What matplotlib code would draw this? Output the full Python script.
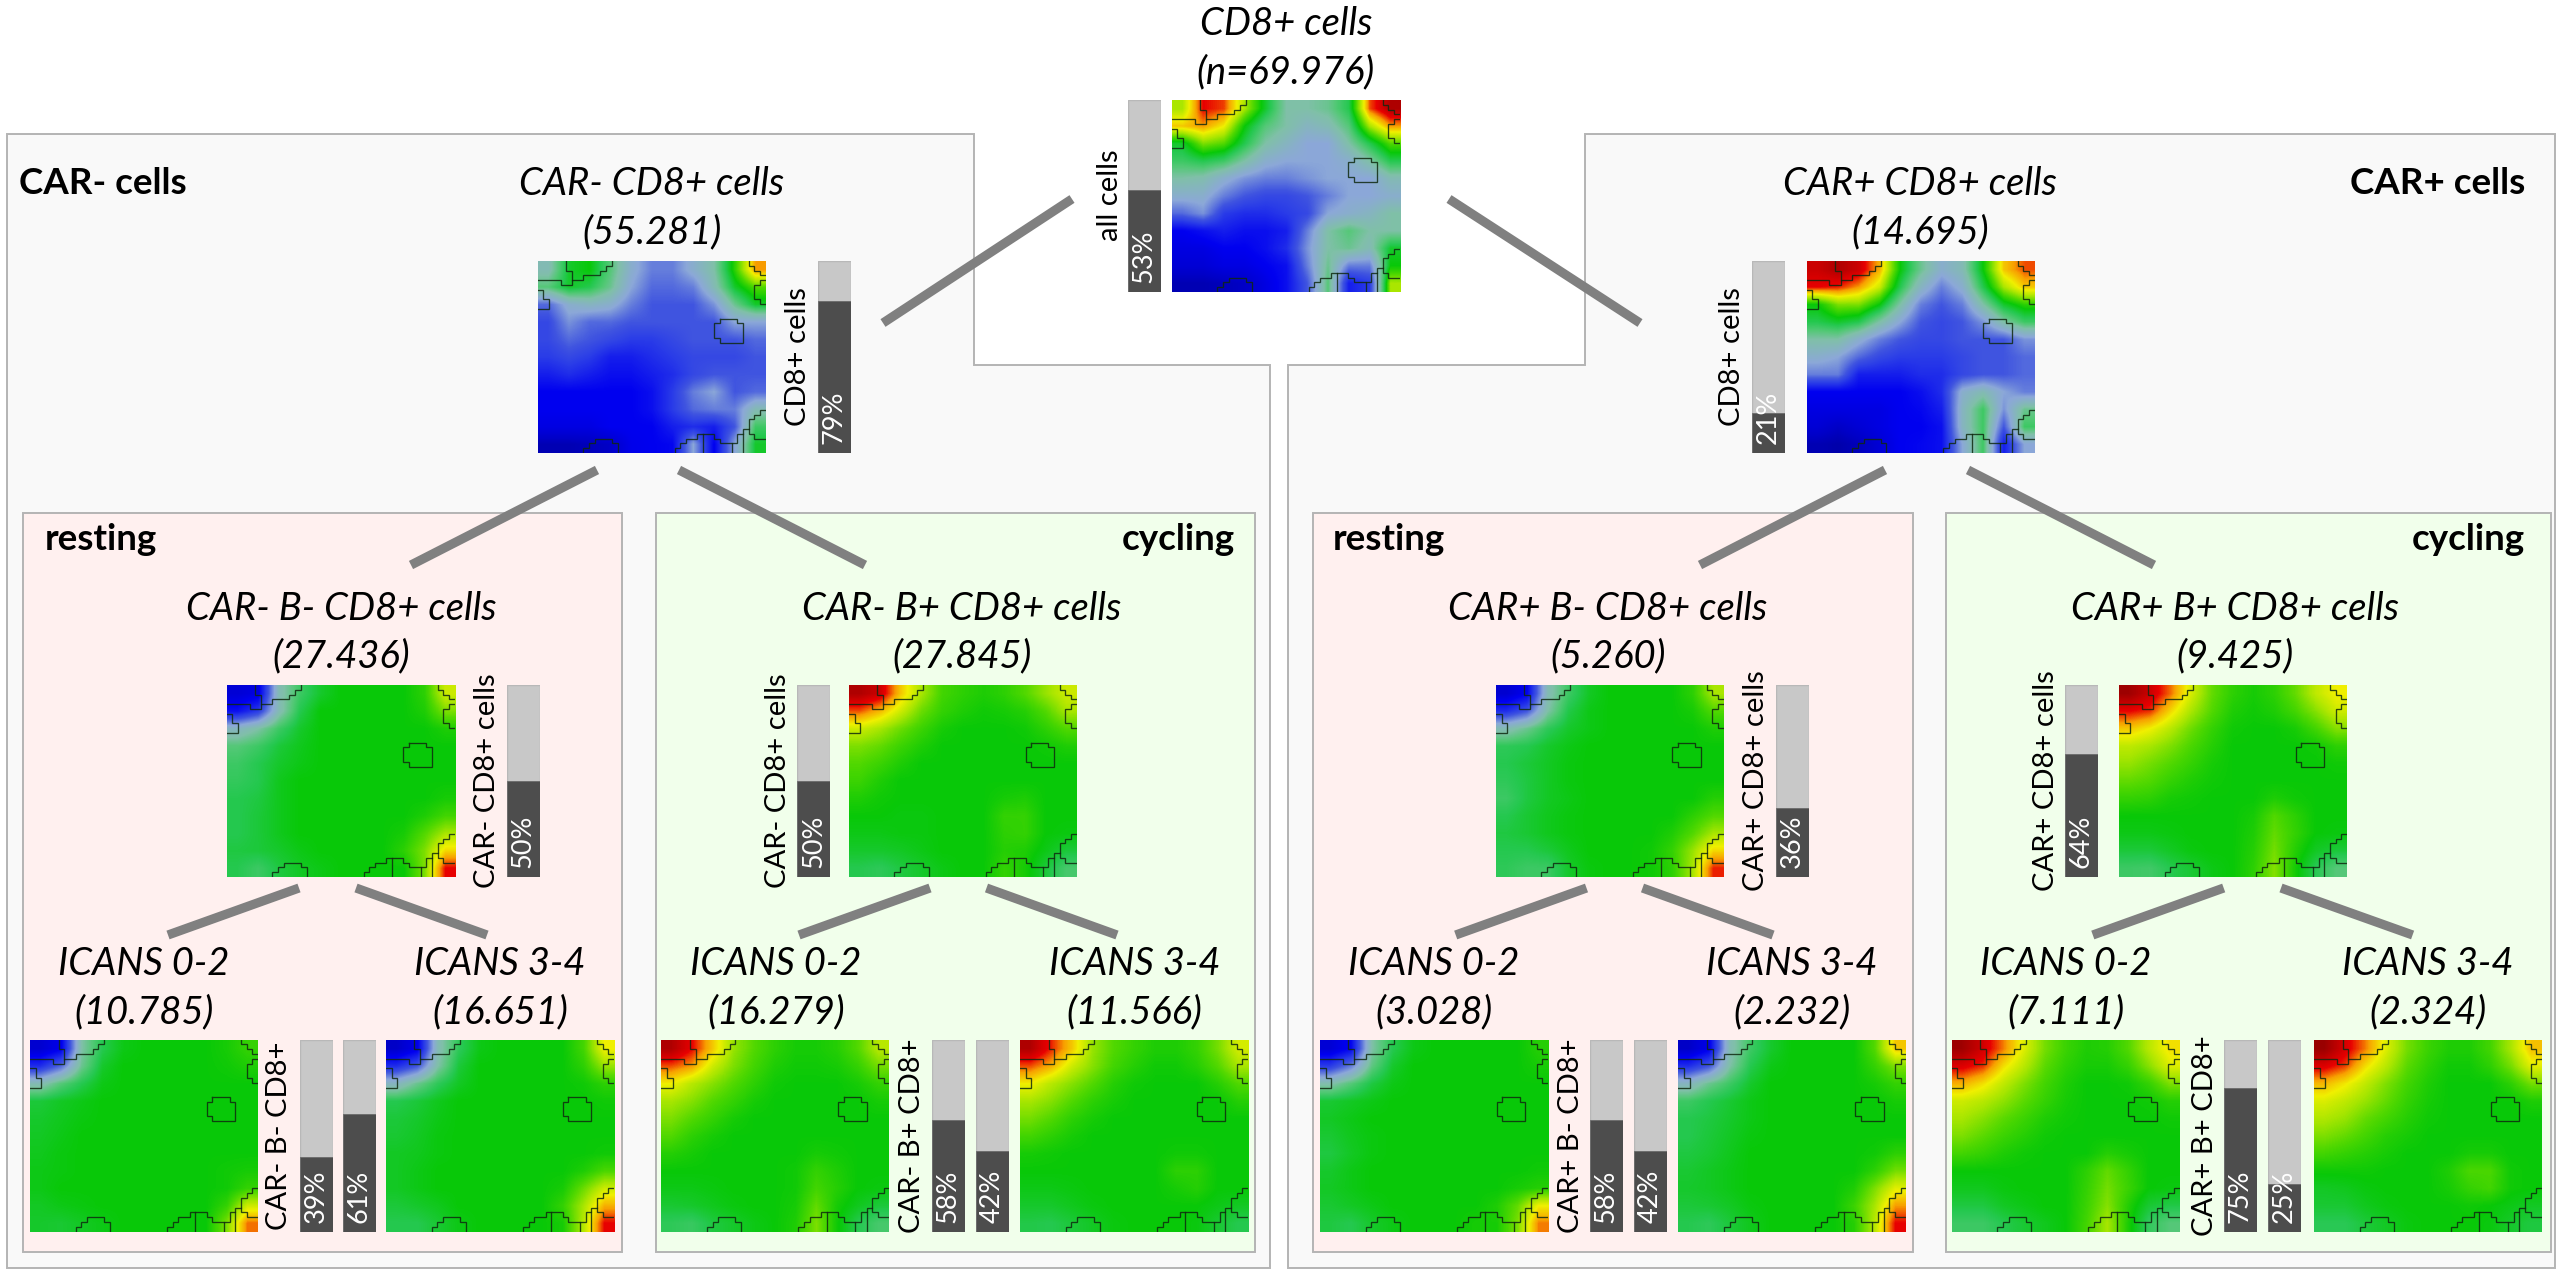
import matplotlib
matplotlib.use("Agg")
import matplotlib.pyplot as plt
import numpy as np
from matplotlib.colors import LinearSegmentedColormap
from matplotlib.patches import Polygon, Rectangle

W, H = 2559, 1276
plt.rcParams['font.family'] = ['Lato', 'DejaVu Sans']

# ---------- data: mean marker intensity on the map, read at 11x11 control points ----------
ALL = [
 [15,18,17.6,15,12.5,10,10,10.5,12,17.5,19],
 [16.5,17,16,13,11,10,9,9.5,11,15,17],
 [12.5,14.5,14,12,10,9,8,8,10,12,14],
 [11.5,12,11.5,10,8.5,8,8,8,8.5,10,12],
 [10,9.7,8.5,7.5,7,7,7.5,8,8,8,9.5],
 [8.5,8.5,7,6,5.5,5.5,6,7,8,8,8.5],
 [6.5,7.5,5,4.5,4.5,5,5.5,8,8.5,9,10],
 [3,3.5,4,3.5,3.5,4,7,10,11,10,10],
 [2.5,2.5,3,3,3.5,4.5,7.5,10,10.5,9.5,12.5],
 [2,2,2.5,2.5,3,3.5,7,10.5,7,7,13],
 [1,1,1.2,1.5,2.5,3.5,6,11,4,5,15]]
NEG = [
 [9.5,12.5,13,11,8.5,7,7,8.5,10,13.5,17],
 [11,12.5,12,10.5,8,6.5,6.5,7,9.5,12.5,14],
 [6.5,8.5,9,8.5,7,6,6,6,7.5,10.5,12.5],
 [5.5,7.5,6.5,6.5,6,6,6,6,6,8,8],
 [5.5,6.5,6,5.5,5,5,5.5,6,6,6,6.5],
 [5,5.5,5,4,4,4.5,5,5.5,5.5,5.5,6],
 [4,4.5,4,3.5,3.5,4,4.5,5.5,6,6,6],
 [3,3,3,3,3,3.5,5,7,8,6,6.5],
 [3,3,3,3,3,3.5,5,6.5,7,7,9.5],
 [2.5,2.5,2.5,3,3,3,4,4.5,4,6,11.5],
 [1,1,1.2,1.5,2.8,3,3.2,8,3,8,12.5]]
POS = [
 [18.5,19,18.5,16.8,13,10.5,8.5,9.5,13,16.5,17.5],
 [18,17.8,17,15.5,12,9,7,8.5,12,15,16.5],
 [13,14.5,14.5,13,10,7,6,7,10,12.5,13.5],
 [12,12.5,12,10,8,6,5.5,6,7.5,10,11.5],
 [10,10,8.5,7,6,5.5,5.5,6,6,6,7.5],
 [8.5,8,6.5,5.5,5,5,5,5.5,6,6,6.5],
 [7,7,4,4,4,4.5,4.5,5.5,6,6,6.5],
 [3,3,3,3,3,3.5,4.5,8.5,9.5,8,7],
 [2.5,2.5,2.5,2.5,3,3.2,4,9,11.5,7.5,10.5],
 [2,1.5,2,2.5,3,3,3.5,9,11.5,6,11.5],
 [1,0.8,1.2,2,3,3.2,3.5,8,11.5,4,8]]
NEG_BN = [
 [2,2.5,9.5,11.5,12.5,13,13,13,13,13.5,15.5],
 [3.5,5,9.5,12,13,13,13,13,13,13.3,14.5],
 [9,10,11.5,12.5,13,13,13,13,13,13,13.3],
 [11,11.5,12.3,12.7,13,13,13,13,13,13,13],
 [11.5,12,12.5,12.8,13,13,13,13,13,13,13],
 [11.7,12,12.7,13,13,13,13,13,13,13,13],
 [12,12.2,12.7,13,13,13,13,13,13,13,13.2],
 [12,12.3,12.7,13,13,13,13,13,13,13.3,13.8],
 [12,12.3,12.7,13,13,13,13,13,13.2,14,15],
 [12.2,12.3,12.5,12.8,13,13,13,13,13.5,14.5,16.3],
 [12,11.5,12.2,12.6,12.8,13,13,13,13,14.5,18]]
NEG_BP = [
 [19,18.5,16.5,15,13.8,13.5,13.3,13.5,14,14.8,15.5],
 [17.5,16.7,15.5,14.3,13.6,13.3,13.1,13.2,13.4,14,15],
 [15.5,15,14.3,13.7,13.2,13,13,13,13.1,13.5,14],
 [14.5,14.2,13.7,13.3,13,13,13,13,13,13.1,13.3],
 [14,13.7,13.3,13,13,13,13,13,13,13,13],
 [13.7,13.3,13,13,13,13,13,13,13,13,13],
 [13.3,13.1,13,13,13,13,13,13.2,13.3,13,13],
 [13,13,12.9,12.9,13,13,13,13.6,13.6,13,13],
 [12.8,12.8,12.9,12.9,13,13,13,13.5,13.6,13,12.9],
 [12.5,12.5,12.6,12.8,13,13,13,13.4,13.3,12.8,12.3],
 [12,11.8,12.2,12.5,12.8,13,13,13.6,13.2,12.3,11.3]]
POS_BN = [
 [1.8,3,9.5,11.5,12.6,13,13,13,13,13.5,15],
 [4.5,6,10,12.1,12.8,13,13,13,13,13.2,14],
 [9.5,10.5,11.8,12.5,12.8,13,13,13,13,13,13.3],
 [11.8,12,12.5,12.8,13,13,13,13,13,13,13],
 [12,12.3,12.6,12.9,13,13,13,13,13,13,13],
 [11.8,12.2,12.6,12.9,13,13,13,13,13,13,13],
 [11.5,12.2,12.6,12.8,13,13,13,13,13,13,13.4],
 [12,12.4,12.7,12.9,13,13,13,13,13,13.5,14],
 [12.2,12.4,12.7,12.9,13,13,13,13,13.3,14,15],
 [12,12,12.3,12.7,13,13,13,13.1,13.6,14.8,16.3],
 [11.8,11.5,11.5,12.5,12.9,13,13,13.1,13.5,15,17.8]]
POS_BP = [
 [19.3,18.5,17.3,15.6,14.2,13.5,13.2,13.5,14.2,15.3,16],
 [18,17.7,16.3,15,14,13.3,13.1,13.3,13.8,14.6,15.5],
 [16.5,16,15.2,14.3,13.6,13.1,13,13,13.2,13.8,14.6],
 [15.3,15,14.5,13.9,13.4,13,13,13,13,13.1,13.5],
 [14.8,14.4,14,13.6,13.2,13,13,13,13,13,13.1],
 [14.2,14,13.6,13.3,13.1,13,13,13,13,13,13],
 [13.6,13.5,13.2,13.1,13,13,13,13.3,13.1,13,13],
 [13,13,13,13,13,13,13.2,14,13.5,13,13],
 [12.8,12.8,12.9,13,13,13,13.3,14.2,13.6,13,12.9],
 [12.3,12.3,12.6,12.9,13,13,13.4,14.4,13.4,12.6,12.3],
 [11.5,11.4,12,12.4,12.8,13,13.5,14.6,13.2,11.9,11]]
NEG_BN_LOW = [
 [1.8,2.8,10,12,12.8,13,13,13,13,13.2,13.6],
 [4.5,6.5,10.5,12.5,13,13,13,13,13,13.1,13.3],
 [9.5,11,12,12.8,13,13,13,13,13,13,13],
 [12.3,12.6,12.8,13,13,13,13,13,13,13,13],
 [12.5,12.7,12.9,13,13,13,13,13,13,13,13],
 [12.6,12.8,13,13,13,13,13,13,13,13,13],
 [12.7,12.9,13,13,13,13,13,13,13,13,13],
 [12.8,12.9,13,13,13,13,13,13,13,13.1,13.2],
 [12.8,13,13,13,13,13,13,13,13,13.1,13.6],
 [12.6,12.8,12.9,13,13,13,13,13,13,13.6,15.5],
 [12.5,12.4,12.6,12.8,13,13,13,13,13,14.5,17.3]]
NEG_BN_HIGH = [
 [1.5,2.7,9.5,11.8,12.8,13,13,13,13,13.8,16],
 [4.5,6,10,12.3,13,13,13,13,13,13.5,14.8],
 [9,10.5,11.8,12.6,13,13,13,13,13,13.1,13.5],
 [12,12.3,12.7,13,13,13,13,13,13,13,13.1],
 [12.3,12.5,12.8,13,13,13,13,13,13,13,13],
 [12.4,12.6,12.9,13,13,13,13,13,13,13,13],
 [12.6,12.7,12.9,13,13,13,13,13,13,13,13.1],
 [12.6,12.8,13,13,13,13,13,13,13,13.3,13.9],
 [12.6,12.8,13,13,13,13,13,13,13.2,14.3,15.5],
 [12.3,12.5,12.7,13,13,13,13,13,13.6,15,16.8],
 [12,12,12.4,12.8,13,13,13,13,13.2,15.2,18]]
NEG_BP_LOW = [
 [19,18,16.5,14.8,14,13.5,13.2,13.2,13.4,14,15.2],
 [17.5,17,15.5,14.5,13.8,13.3,13.1,13.1,13.2,13.6,14.4],
 [16,15.2,14.6,14,13.5,13.1,13,13,13,13.2,13.6],
 [15,14.6,14,13.6,13.2,13,13,13,13,13,13.2],
 [14.5,14,13.6,13.2,13,13,13,13,13,13,13],
 [14,13.5,13.2,13,13,13,13,13,13,13,13],
 [13.4,13.2,13,13,13,13,13,13.2,13.1,13,13],
 [13,13,13,13,13,13,13.1,13.6,13.3,13,13],
 [12.8,12.8,12.9,13,13,13,13.1,13.8,13.4,13,12.9],
 [12.4,12.5,12.7,12.9,13,13,13.2,14.2,13.2,12.7,12.3],
 [11.8,11.6,12.2,12.5,12.8,13,13.3,14.5,13.1,12,11.3]]
NEG_BP_HIGH = [
 [19,17.8,16.5,14.8,14,13.6,13.3,13.3,13.6,14.4,15.6],
 [17.5,16.8,15.5,14.6,13.8,13.4,13.1,13.1,13.4,14,15],
 [16,15.2,14.6,14,13.4,13.1,13,13,13,13.4,14],
 [15,14.6,14,13.5,13.2,13,13,13,13,13,13.4],
 [14.4,14,13.5,13.2,13,13,13,13,13,13,13],
 [13.8,13.5,13.2,13,13,13,13,13,13,13,13],
 [13.2,13.1,13,13,13,13,13,13.1,13.1,13,13],
 [13,13,13,13,13,13,13,13.5,13.5,13,13],
 [12.8,12.8,12.9,13,13,13,13,13.2,13.4,13,13],
 [12.5,12.5,12.7,12.9,13,13,13,13,13,12.8,12.6],
 [12.1,12,12.3,12.6,12.9,13,13,13,12.9,12.4,12]]
POS_BN_LOW = [
 [2,3.2,10,12,12.8,13,13,13,13,13,13.4],
 [5,7,10.8,12.5,13,13,13,13,13,13,13.2],
 [9.8,11,12.2,12.8,13,13,13,13,13,13,13],
 [12.4,12.6,12.8,13,13,13,13,13,13,13,13],
 [12.6,12.8,13,13,13,13,13,13,13,13,13],
 [12.4,12.7,12.9,13,13,13,13,13,13,13,13],
 [12.2,12.6,12.9,13,13,13,13,13,13,13,13],
 [12.5,12.8,13,13,13,13,13,13,13,13,13.1],
 [12.6,12.8,13,13,13,13,13,13,13,13.2,13.4],
 [12.4,12.6,12.8,13,13,13,13,13,13.3,14.2,16],
 [12.2,12,12.5,12.8,13,13,13,13.2,13.2,14.5,17.2]]
POS_BN_HIGH = [
 [1.5,2.8,9.5,11.5,12.5,13,13,13,13,14,16.5],
 [4.5,6,10,12,12.8,13,13,13,13,13.6,14.5],
 [9,10.5,11.5,12.5,13,13,13,13,13,13.2,13.6],
 [11.5,12,12.4,12.8,13,13,13,13,13,13,13.2],
 [12,12.2,12.5,12.8,13,13,13,13,13,13,13],
 [12,12.3,12.6,12.9,13,13,13,13,13,13,13],
 [12.2,12.4,12.7,13,13,13,13,13,13,13.1,13.5],
 [12.4,12.6,12.8,13,13,13,13,13,13,13.5,14.4],
 [12.5,12.6,12.8,13,13,13,13,13,13.3,14.5,15.8],
 [12.3,12.4,12.6,12.9,13,13,13,13,13.7,15,17],
 [12,11.8,12.3,12.7,13,13,13,13,13.4,15.2,18]]
POS_BP_LOW = [
 [19.3,18.4,17.2,15.7,14.4,13.7,13.3,13.4,14,15.2,16.2],
 [18.2,17.7,16.2,15.2,14.1,13.5,13.2,13.2,13.6,14.6,15.7],
 [16.8,16.2,15.3,14.5,13.8,13.3,13,13,13.1,13.6,14.5],
 [15.5,15.2,14.7,14.1,13.6,13.2,13,13,13,13.1,13.4],
 [15,14.6,14.1,13.7,13.3,13.1,13,13,13,13,13.1],
 [14.5,14.1,13.7,13.4,13.1,13,13,13,13,13,13],
 [13.8,13.6,13.3,13.1,13,13,13,13.4,13.2,13,13],
 [13,13,13,13,13,13,13.5,14.2,13.6,13,13],
 [12.7,12.7,12.9,13,13,13,13.6,14.4,13.7,13,12.9],
 [12.2,12.2,12.6,12.8,13,13,13.7,14.6,13.4,12.4,12.1],
 [11.5,11.5,12,12.4,12.7,13,13.8,15,13.3,11.7,11]]
POS_BP_HIGH = [
 [19.4,18.3,17.2,15.7,14.4,13.7,13.3,13.3,13.8,15,16.6],
 [18.2,17.6,16.2,15.2,14.1,13.5,13.1,13.1,13.5,14.4,15.8],
 [16.7,16.1,15.3,14.5,13.8,13.3,13,13,13,13.5,14.4],
 [15.7,15.3,14.8,14.2,13.6,13.2,13,13,13,13,13.3],
 [15.1,14.8,14.2,13.8,13.4,13.1,13,13,13,13,13],
 [14.5,14.2,13.8,13.4,13.2,13,13,13,13,13,13],
 [13.8,13.6,13.4,13.2,13,13,13,13.2,13.2,13,13],
 [13.1,13.1,13.1,13,13,13,13.3,13.9,13.9,13.1,13],
 [12.6,12.7,12.9,13,13,13,13.2,13.6,13.8,13.1,13],
 [12.4,12.4,12.7,12.9,13,13,13,13.1,13,12.8,12.6],
 [11.9,11.9,12.3,12.6,12.9,13,13,13,12.9,12.5,12.2]]

# cluster outlines shared by all maps, on the 40x40 SOM lattice
OUTLINES = [
 [(13,0),(13,1),(12,1),(12,2),(11,2),(11,3),(8,3),(8,4),(6,4),(6,5),(4,5),(4,4),(0,4)],
 [(5,0),(5,2),(6,2),(6,4)],
 [(0,6),(1,6),(1,8),(2,8),(2,10),(0,10)],
 [(37,0),(37,1),(38,1),(38,2),(39,2),(39,3),(40,3)],
 [(40,4),(39,4),(39,5),(38,5),(38,8),(39,8),(39,9),(40,9)],
 [(32,12),(35,12),(35,13),(36,13),(36,17),(32,17),(32,16),(31,16),(31,13),(32,13),(32,12)],
 [(8,40),(8,39),(9,39),(9,38),(10,38),(10,37),(13,37),(13,38),(14,38),(14,40)],
 [(24,40),(24,39),(25,39),(25,38),(26,38),(26,37),(28,37),(28,36),(31,36),(31,37),(32,37),(32,38),(34,38),(34,40)],
 [(29,36),(29,40)],
 [(34,38),(35,38),(35,36),(36,36),(36,35),(37,35),(37,33),(38,33),(38,32),(39,32),(39,31),(40,31)],
 [(37,35),(37,36),(38,36),(38,37),(40,37)],
 [(36,36),(36,40)],
]

PCT_ALL = 53
PCT_NEG, PCT_POS = 79, 21
PCT_NEG_BN, PCT_NEG_BP = 50, 50
PCT_POS_BN, PCT_POS_BP = 36, 64
PCT_NEG_BN_SPLIT = [39, 61]
PCT_NEG_BP_SPLIT = [58, 42]
PCT_POS_BN_SPLIT = [58, 42]
PCT_POS_BP_SPLIT = [75, 25]

# ---------- styling ----------
C_LINE = '#808080'
C_EDGE = '#b4b4b4'
C_OUTER = '#f9f9f9'
C_REST = '#fff0ef'
C_CYCLE = '#f1ffeb'
C_LIGHT = '#c8c8c8'
C_DARK = '#4d4d4d'
MW, MH = 228, 192      # map size in px
BW = 33                # bar width in px
FS_TITLE = 27.5
FS_LABEL = 21
FS_PCT = 19.5
FS_HEAD = 26.5

nodes = [(0,'#00008c'),(1.5,'#0000c8'),(3,'#0000f0'),(5,'#2a3ce8'),(6,'#4055e0'),
         (8,'#8ca8d8'),(10,'#80c0a8'),(11,'#55c878'),(12,'#25c850'),(13,'#08c808'),
         (14,'#50d800'),(15,'#a8e600'),(16,'#f0f000'),(17,'#f8a000'),(18,'#e80000'),
         (19,'#b00000'),(20,'#7a0000')]
cmap = LinearSegmentedColormap.from_list('som', [(v/20, c) for v, c in nodes], N=512)

fig = plt.figure(figsize=(W/100, H/100), dpi=100, facecolor='white')
bg = fig.add_axes([0, 0, 1, 1])
bg.set_xlim(0, W); bg.set_ylim(H, 0); bg.axis('off')


def px_axes(x, y, w, h):
    return fig.add_axes([x/W, 1-(y+h)/H, w/W, h/H])


def draw_map(x, y, grid):
    ax = px_axes(x, y, MW, MH)
    ax.imshow(np.array(grid), cmap=cmap, vmin=0, vmax=20, aspect='auto',
              extent=(0, 40, 40, 0), interpolation='bilinear')
    for o in OUTLINES:
        xs, ys = zip(*o)
        ax.plot(xs, ys, color='#102a10', lw=0.95, alpha=0.85, solid_joinstyle='miter')
    ax.set_xlim(0, 40); ax.set_ylim(40, 0); ax.axis('off')


def draw_bar(x, y, pct):
    ax = px_axes(x, y, BW, MH)
    ax.bar([0], [100], width=1, color=C_LIGHT, edgecolor='#b8b8b8', linewidth=1.0)
    ax.bar([0], [pct], width=1, color=C_DARK, edgecolor='#6a6a6a', linewidth=0.6)
    ax.set_xlim(-0.5, 0.5); ax.set_ylim(0, 100); ax.axis('off')
    ax.text(0, 4.5, f'{pct}%', color='white', fontsize=FS_PCT, rotation=90,
            ha='center', va='bottom', clip_on=False)


def title(cx, y1, y2, a, b):
    bg.text(cx, y1, a, style='italic', fontsize=FS_TITLE, ha='center', va='center', color='black')
    bg.text(cx, y2, b, style='italic', fontsize=FS_TITLE, ha='center', va='center', color='black')


def vlabel(x, y, s):
    bg.text(x, y, s, rotation=90, fontsize=FS_LABEL, ha='center', va='center', color='black')


def panel(x0, y0, x1, y1, c):
    bg.add_patch(Rectangle((x0, y0), x1-x0, y1-y0, fc=c, ec=C_EDGE, lw=1.4))


def link(a, b):
    bg.plot([a[0], b[0]], [a[1], b[1]], color=C_LINE, lw=6.6, solid_capstyle='butt')


# outer panels
bg.add_patch(Polygon([(6.8,134),(974,134),(974,365),(1270,365),(1270,1268),(6.8,1268)],
                     closed=True, fc=C_OUTER, ec=C_EDGE, lw=1.4))
bg.add_patch(Polygon([(1585,134),(2555,134),(2555,1268),(1288,1268),(1288,365),(1585,365)],
                     closed=True, fc=C_OUTER, ec=C_EDGE, lw=1.4))
# inner panels
panel(22.5, 513, 622, 1252, C_REST)
panel(655.5, 513, 1255, 1252, C_CYCLE)
panel(1312.7, 513, 1913, 1252, C_REST)
panel(1946, 513, 2551, 1252, C_CYCLE)

# connectors
link((1072,199), (883,323)); link((1449,199), (1640,323))
link((597,470), (411,565)); link((679,470), (865,565))
link((1885,470), (1700,565)); link((1968,470), (2154,565))
link((299,888), (168,935)); link((356,888), (487,935))
link((930,888), (799,935)); link((986.5,888), (1117,935))
link((1586.5,888), (1455.7,935)); link((1642.5,888), (1773,935))
link((2223.7,888), (2092.8,935)); link((2281,888), (2412.6,935))

# headers
bg.text(19, 183, 'CAR- cells', fontweight='bold', fontsize=FS_HEAD, ha='left', va='center')
bg.text(2525, 183, 'CAR+ cells', fontweight='bold', fontsize=FS_HEAD, ha='right', va='center')
bg.text(44.6, 540, 'resting', fontweight='bold', fontsize=FS_HEAD, ha='left', va='center')
bg.text(1235, 540, 'cycling', fontweight='bold', fontsize=FS_HEAD, ha='right', va='center')
bg.text(1333, 540, 'resting', fontweight='bold', fontsize=FS_HEAD, ha='left', va='center')
bg.text(2525, 540, 'cycling', fontweight='bold', fontsize=FS_HEAD, ha='right', va='center')

# level 1
title(1286, 24, 72, 'CD8+ cells', '(n=69.976)')
draw_map(1171.7, 100, ALL); draw_bar(1127.7, 100, PCT_ALL); vlabel(1110, 195, 'all cells')
# level 2
title(652, 184, 232, 'CAR- CD8+ cells', '(55.281)')
draw_map(537.7, 261, NEG); draw_bar(817.7, 261, PCT_NEG); vlabel(797.7, 357, 'CD8+ cells')
title(1920, 184, 232, 'CAR+ CD8+ cells', '(14.695)')
draw_map(1806.7, 261, POS); draw_bar(1752, 261, PCT_POS); vlabel(1731.7, 357, 'CD8+ cells')
# level 3
title(341, 609, 656, 'CAR- B- CD8+ cells', '(27.436)')
draw_map(226.7, 685, NEG_BN); draw_bar(506.7, 685, PCT_NEG_BN); vlabel(486.7, 781, 'CAR- CD8+ cells')
title(962, 609, 656, 'CAR- B+ CD8+ cells', '(27.845)')
draw_map(848.8, 685, NEG_BP); draw_bar(797.3, 685, PCT_NEG_BP); vlabel(777.7, 781, 'CAR- CD8+ cells')
title(1608, 609, 656, 'CAR+ B- CD8+ cells', '(5.260)')
draw_map(1495.8, 685, POS_BN); draw_bar(1775.7, 685, PCT_POS_BN); vlabel(1756, 781, 'CAR+ CD8+ cells')
title(2235, 609, 656, 'CAR+ B+ CD8+ cells', '(9.425)')
draw_map(2119, 685, POS_BP); draw_bar(2065, 685, PCT_POS_BP); vlabel(2045.5, 781, 'CAR+ CD8+ cells')
# level 4
Y4 = 1039.5
TY1, TY2 = 964, 1012
title(144, TY1, TY2, 'ICANS 0-2', '(10.785)'); title(500, TY1, TY2, 'ICANS 3-4', '(16.651)')
draw_map(30, Y4, NEG_BN_LOW); draw_map(386, Y4, NEG_BN_HIGH)
draw_bar(299.6, Y4, PCT_NEG_BN_SPLIT[0]); draw_bar(343, Y4, PCT_NEG_BN_SPLIT[1]); vlabel(279, 1136, 'CAR- B- CD8+')
title(775.7, TY1, TY2, 'ICANS 0-2', '(16.279)'); title(1134.5, TY1, TY2, 'ICANS 3-4', '(11.566)')
draw_map(661.3, Y4, NEG_BP_LOW); draw_map(1020, Y4, NEG_BP_HIGH)
draw_bar(931.8, Y4, PCT_NEG_BP_SPLIT[0]); draw_bar(976, Y4, PCT_NEG_BP_SPLIT[1]); vlabel(911.8, 1136, 'CAR- B+ CD8+')
title(1434, TY1, TY2, 'ICANS 0-2', '(3.028)'); title(1792, TY1, TY2, 'ICANS 3-4', '(2.232)')
draw_map(1320, Y4, POS_BN_LOW); draw_map(1678.4, Y4, POS_BN_HIGH)
draw_bar(1589.8, Y4, PCT_POS_BN_SPLIT[0]); draw_bar(1634, Y4, PCT_POS_BN_SPLIT[1]); vlabel(1571, 1136, 'CAR+ B- CD8+')
title(2066, TY1, TY2, 'ICANS 0-2', '(7.111)'); title(2428, TY1, TY2, 'ICANS 3-4', '(2.324)')
draw_map(1951.5, Y4, POS_BP_LOW); draw_map(2314, Y4, POS_BP_HIGH)
draw_bar(2223.8, Y4, PCT_POS_BP_SPLIT[0]); draw_bar(2268, Y4, PCT_POS_BP_SPLIT[1]); vlabel(2205, 1136, 'CAR+ B+ CD8+')

fig.savefig('out.png', dpi=100, facecolor='white')
